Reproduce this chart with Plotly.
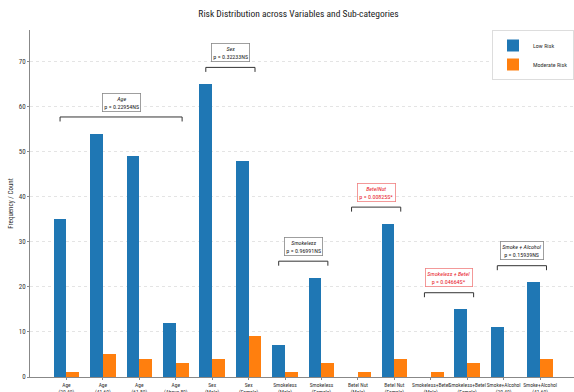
import plotly.graph_objects as go

# Sub-category labels and risk counts
categories = [
    "Age<br>(20-40)", "Age<br>(41-60)", "Age<br>(61-80)", "Age<br>(Above 80)",
    "Sex<br>(Male)", "Sex<br>(Female)",
    "Smokeless<br>(Male)", "Smokeless<br>(Female)",
    "Betel Nut<br>(Male)", "Betel Nut<br>(Female)",
    "Smokeless+Betel<br>(Male)", "Smokeless+Betel<br>(Female)",
    "Smoke+Alcohol<br>(20-40)", "Smoke+Alcohol<br>(41-60)",
]
low_risk = [35, 54, 49, 12, 65, 48, 7, 22, 0, 34, 0, 15, 11, 21]
moderate_risk = [1, 5, 4, 3, 4, 9, 1, 3, 1, 4, 1, 3, 0, 4]

# Variable groups: (name, first index, last index, p-value label, significant)
group_names = ["Age", "Sex", "Smokeless", "BetelNut", "Smokeless + Betel", "Smoke + Alcohol"]
group_start = [0, 4, 6, 8, 10, 12]
group_end = [3, 5, 7, 9, 11, 13]
group_pvalues = ["p = 0.22954NS", "p = 0.32233NS", "p = 0.96991NS",
                 "p = 0.00825S*", "p = 0.04664S*", "p = 0.15939NS"]
group_significant = [False, False, False, True, True, False]

BLUE = "#1f77b4"
ORANGE = "#ff7f0e"
W = 0.35
FONT = "Liberation Sans Narrow, Roboto Condensed, Arial Narrow, Roboto, sans-serif"

idx = list(range(len(categories)))

fig = go.Figure()
fig.add_trace(go.Bar(x=idx, y=low_risk, width=W, offset=-W, name="Low Risk",
                     marker=dict(color=BLUE, line=dict(width=0))))
fig.add_trace(go.Bar(x=idx, y=moderate_risk, width=W, offset=0, name="Moderate Risk",
                     marker=dict(color=ORANGE, line=dict(width=0))))

# Significance brackets with boxed labels
for name, s, e, p, sig in zip(group_names, group_start, group_end, group_pvalues, group_significant):
    top = max(low_risk[s:e + 1] + moderate_risk[s:e + 1])
    yb = top + 3.7
    x0 = s - W / 2
    x1 = e + W / 2
    fig.add_trace(go.Scatter(
        x=[x0, x0, x1, x1], y=[yb - 1.0, yb, yb, yb - 1.0],
        mode="lines", line=dict(color="#333333", width=1),
        showlegend=False, hoverinfo="skip"))
    color = "#e8202a" if sig else "#222222"
    fig.add_annotation(
        x=(x0 + x1) / 2, y=yb + 1.2, xref="x", yref="y",
        text=f"<i>{name}</i><br>{p}", showarrow=False, yanchor="bottom",
        font=dict(family=FONT, size=6, color=color),
        align="center", bgcolor="white",
        bordercolor="#f08080" if sig else "#888888", borderwidth=0.8, borderpad=1.5)

fig.update_layout(
    width=574, height=392,
    margin=dict(l=30, r=0, t=30, b=15),
    paper_bgcolor="white", plot_bgcolor="white",
    font=dict(family=FONT, size=7, color="#333333"),
    title=dict(text="Risk Distribution across Variables and Sub-categories",
               x=0.52, xanchor="center", y=0.965, yanchor="middle",
               font=dict(family=FONT, size=9.5, color="#222222")),
    showlegend=True,
    legend=dict(x=1, y=1, xanchor="right", yanchor="top",
                bgcolor="white", bordercolor="#dddddd", borderwidth=1,
                font=dict(family=FONT, size=6, color="#333333"),
                itemwidth=30, tracegroupgap=0, itemsizing="constant",
                entrywidth=0),
    bargap=0,
)
fig.update_xaxes(
    range=[-1, 13.93], tickmode="array", tickvals=idx, ticktext=categories,
    tickangle=0, automargin=False,
    tickfont=dict(family=FONT, size=5.5, color="#333333"),
    showgrid=False, showline=True, linecolor="#888888", linewidth=1,
    ticks="outside", ticklen=2, tickcolor="#888888", zeroline=False,
)
fig.update_yaxes(
    range=[0, 77], tickvals=[0, 10, 20, 30, 40, 50, 60, 70], automargin=False,
    tickfont=dict(family=FONT, size=7, color="#333333"),
    showgrid=True, gridcolor="#e4e4e4", griddash="dot", gridwidth=1,
    showline=True, linecolor="#888888", linewidth=1,
    ticks="outside", ticklen=2, tickcolor="#888888", zeroline=False,
    title=dict(text="Frequency / Count", font=dict(family=FONT, size=7, color="#333333"),
               standoff=4),
)

fig.write_html("out.html")
